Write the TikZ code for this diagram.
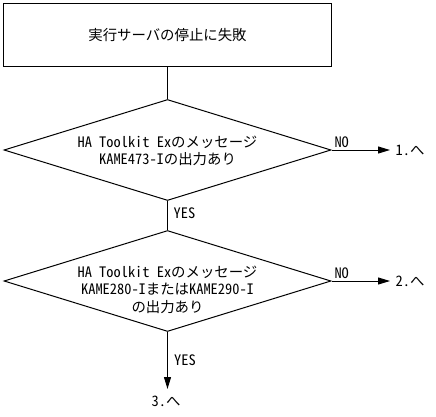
\documentclass[tikz,border=0pt]{standalone}
\usepackage{fontspec}
\setmainfont{Noto Sans CJK JP}[RawFeature=+hwid]
\usetikzlibrary{shapes.geometric,arrows.meta}
\tikzset{
  every node/.style={font=\fontsize{14.4}{17.5}\selectfont},
  line/.style={line width=1pt},
  flow/.style={line, -{Triangle[length=12pt,width=7pt]}},
  procbox/.style={draw, line width=1pt, rectangle, minimum width=328pt, minimum height=62.5pt, inner sep=0pt},
  decision/.style={draw, line width=1pt, diamond, minimum width=327pt, minimum height=101pt, inner sep=0pt},
  txt/.style={align=center, inner sep=0pt},
  lbl/.style={inner sep=0pt},
}
\begin{document}
\begin{tikzpicture}[x=1pt,y=-1pt]
\useasboundingbox (0,0) rectangle (436,416);
\node[procbox] (start) at (167.5,34.75) {実行サーバの停止に失敗};
\node[decision] (d1) at (167.5,150) {};
\node[txt] (d1t) at (167.5,151) {HA Toolkit Exのメッセージ\\KAME473-Iの出力あり};
\node[decision] (d2) at (167.5,281) {};
\node[txt] (d2t) at (167.5,289.5) {HA Toolkit Exのメッセージ\\KAME280-IまたはKAME290-I\\の出力あり};
\coordinate (e1) at (390,150);
\coordinate (e2) at (390,281);
\coordinate (e3) at (167.5,389);
\node[lbl] (t1) at (410,150) {1.へ};
\node[lbl] (t2) at (410,281) {2.へ};
\node[lbl] (t3) at (166,401.5) {3.へ};
\node[lbl] (no1) at (341.7,142) {NO};
\node[lbl] (no2) at (341.7,273) {NO};
\node[lbl] (yes1) at (184.5,213) {YES};
\node[lbl] (yes2) at (185,360) {YES};
\draw[line] (start.south) -- (d1.north);
\draw[line] (d1.south) -- (d2.north);
\draw[flow] (d1.east) -- (e1);
\draw[flow] (d2.east) -- (e2);
\draw[flow] (d2.south) -- (e3);
\end{tikzpicture}
\end{document}
